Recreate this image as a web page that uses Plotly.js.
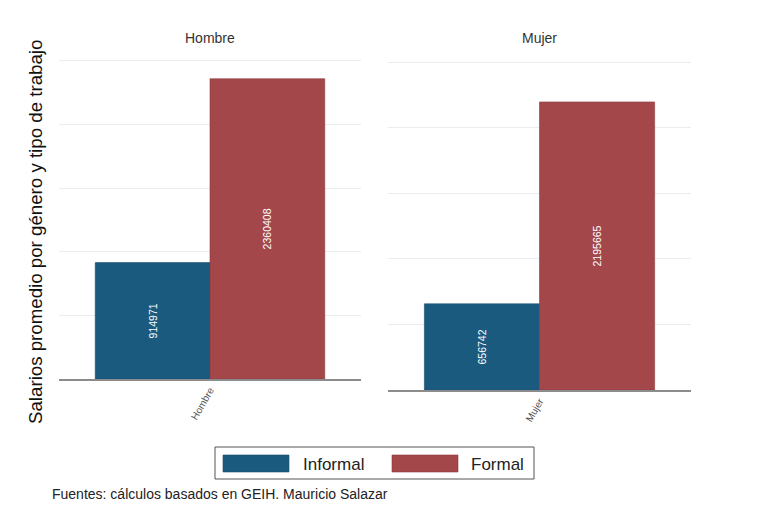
<!DOCTYPE html>
<html>
<head>
<meta charset="utf-8">
<script src="https://cdn.plot.ly/plotly-3.0.1.min.js"></script>
<style>html,body{margin:0;padding:0;background:#fff;}#chart{width:764px;height:506px;}</style>
</head>
<body>
<div id="chart"></div>
<script>
// Data
const panels = ['Hombre', 'Mujer'];
const seriesNames = ['Informal', 'Formal'];
const informal = [914971, 656742];
const formal = [2360408, 2195665];
const seriesValues = [informal, formal];
const colors = ['#1b5a7f', '#a3474b'];
const lineColors = ['#174e6e', '#8f3b3f'];

const W = 764, H = 506;
const fx = px => px / W;
const fy = py => (H - py) / H;

const traces = [];
panels.forEach((p, pi) => {
  seriesValues.forEach((vals, si) => {
    traces.push({
      type: 'bar',
      name: seriesNames[si],
      x: [p],
      y: [vals[pi]],
      xaxis: pi === 0 ? 'x' : 'x2',
      yaxis: pi === 0 ? 'y' : 'y2',
      marker: {color: colors[si], line: {color: lineColors[si], width: 0.6}},
      text: [String(vals[pi])],
      textposition: 'inside',
      insidetextanchor: 'middle',
      textangle: -90,
      textfont: {color: '#ffffff', size: 10.5, family: 'Liberation Sans, Arial, sans-serif'},
      showlegend: false,
      hoverinfo: 'x+y'
    });
  });
});

const yCommon = {
  range: [0, 2510000],
  dtick: 500000,
  tick0: 0,
  showgrid: true,
  gridcolor: '#e8eeee',
  gridwidth: 1,
  zeroline: false,
  showline: false,
  showticklabels: false,
  ticks: ''
};
const xCommon = {
  showline: true,
  linecolor: '#8c8c8c',
  linewidth: 1.5,
  showgrid: false,
  zeroline: false,
  ticks: '',
  tickangle: -60,
  tickfont: {size: 10, color: '#555', family: 'Liberation Sans, Arial, sans-serif'}
};

const font = 'Liberation Sans, Arial, sans-serif';
const annotations = [
  {text: panels[0], x: fx(210), y: fy(38), xref: 'paper', yref: 'paper', showarrow: false, xanchor: 'center', yanchor: 'middle', font: {size: 14, color: '#333', family: font}},
  {text: panels[1], x: fx(539.5), y: fy(38), xref: 'paper', yref: 'paper', showarrow: false, xanchor: 'center', yanchor: 'middle', font: {size: 14, color: '#333', family: font}},
  {text: 'Salarios promedio por género y tipo de trabajo', x: fx(35), y: fy(232), xref: 'paper', yref: 'paper', showarrow: false, textangle: -90, xanchor: 'center', yanchor: 'middle', font: {size: 18.7, color: '#111', family: font}},
  {text: 'Fuentes: cálculos basados en GEIH. Mauricio Salazar', x: fx(50), y: fy(494), xref: 'paper', yref: 'paper', showarrow: false, xanchor: 'left', yanchor: 'middle', font: {size: 14, color: '#222', family: font}},
  {text: seriesNames[0], x: fx(301), y: fy(464), xref: 'paper', yref: 'paper', showarrow: false, xanchor: 'left', yanchor: 'middle', font: {size: 17, color: '#222', family: font}},
  {text: seriesNames[1], x: fx(469), y: fy(464), xref: 'paper', yref: 'paper', showarrow: false, xanchor: 'left', yanchor: 'middle', font: {size: 17, color: '#222', family: font}}
];

const shapes = [
  {type: 'rect', xref: 'paper', yref: 'paper', x0: fx(215), x1: fx(534), y0: fy(479), y1: fy(447), line: {color: '#555', width: 1}, fillcolor: '#fff', layer: 'below'},
  {type: 'rect', xref: 'paper', yref: 'paper', x0: fx(223), x1: fx(289), y0: fy(472), y1: fy(455), line: {color: lineColors[0], width: 0.6}, fillcolor: colors[0]},
  {type: 'rect', xref: 'paper', yref: 'paper', x0: fx(392), x1: fx(458), y0: fy(472), y1: fy(455), line: {color: lineColors[1], width: 0.6}, fillcolor: colors[1]}
];

const layout = {
  width: W, height: H,
  margin: {l: 0, r: 0, t: 0, b: 0},
  paper_bgcolor: '#ffffff',
  plot_bgcolor: '#ffffff',
  barmode: 'group',
  bargap: 0.24,
  bargroupgap: 0,
  showlegend: false,
  font: {family: font},
  xaxis: Object.assign({}, xCommon, {domain: [fx(59), fx(361)], anchor: 'y'}),
  xaxis2: Object.assign({}, xCommon, {domain: [fx(388), fx(691)], anchor: 'y2'}),
  yaxis: Object.assign({}, yCommon, {domain: [fy(379), fy(59.7)], anchor: 'x'}),
  yaxis2: Object.assign({}, yCommon, {domain: [fy(390), fy(60.7)], anchor: 'x2'}),
  annotations: annotations,
  shapes: shapes
};

Plotly.newPlot('chart', traces, layout, {displayModeBar: false, staticPlot: true});
</script>
</body>
</html>
